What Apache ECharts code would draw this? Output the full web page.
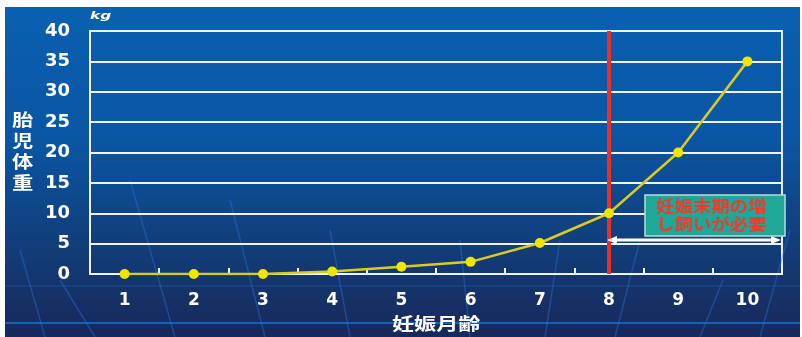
<!DOCTYPE html>
<html><head><meta charset="utf-8">
<script src="https://cdn.jsdelivr.net/npm/echarts@6/dist/echarts.min.js"></script>
<style>html,body{margin:0;padding:0;background:#fff}#c{width:802px;height:337px}</style>
</head><body><div id="c"></div>
<script>
const months = ['1','2','3','4','5','6','7','8','9','10'];
const fetalWeight = [0, 0, 0, 0.4, 1.2, 2, 5.1, 10, 20, 35];
const yTicks = {min: 0, max: 40, interval: 5};
const markMonth = '8';
const yName = '胎児体重';
const xName = '妊娠月齢';
const unitText = 'kg';
const noteLines = ['妊娠末期の増', 'し飼いが必要'];

const chart = echarts.init(document.getElementById('c'));
const F = '"DejaVu Sans", sans-serif';
const CJK = '"Noto Sans CJK JP", sans-serif';
const deco = [];
const decoLines = [[60,280,95,337],[20,250,45,337],[130,180,175,337],[230,200,265,337],[330,230,350,337],[460,240,470,337],[560,240,545,337],[640,240,615,337],[723,280,700,337],[790,230,760,337]];
decoLines.forEach(l => deco.push({type:'line', silent:true, z:0, shape:{x1:l[0],y1:l[1],x2:l[2],y2:l[3]}, style:{stroke:'rgba(40,120,220,0.4)', lineWidth:1.5}}));

chart.setOption({
  animation: false,
  backgroundColor: '#ffffff',
  grid: {left: 90, right: 20, top: 31, bottom: 63, show: true, borderColor: '#e8eef8', borderWidth: 2, backgroundColor: 'transparent'},
  graphic: [
    {type:'rect', z:-10, silent:true, shape:{x:5, y:7, width:795, height:330},
     style:{fill:{type:'linear', x:0, y:0, x2:0, y2:1, colorStops:[{offset:0,color:'#0a60b0'},{offset:0.4,color:'#0a56a4'},{offset:0.7,color:'#113f7c'},{offset:1,color:'#18285a'}]}}},
    {type:'line', silent:true, z:0, shape:{x1:5,y1:323,x2:800,y2:323}, style:{stroke:'#1462b8', lineWidth:2}},
    {type:'line', silent:true, z:0, shape:{x1:5,y1:286,x2:800,y2:286}, style:{stroke:'rgba(30,90,170,0.4)', lineWidth:1.5}},
    ...deco,
    {type:'text', x: 90, y: 11, scaleX: 1.4, style:{text: unitText, fill:'#ffffff', font:'italic bold 11px ' + F}},
    {type:'text', x: 12, y: 109, scaleX: 1.25, style:{text: yName.split('').join('\n'), fill:'#ffffff', font:'bold 17px ' + CJK, lineHeight: 21}},
    {type:'text', x: 392, y: 315, scaleX: 1.3, style:{text: xName, fill:'#ffffff', font:'bold 17px ' + CJK}},
    {type:'rect', z:20, shape:{x:645, y:195, width:140, height:41}, style:{fill:'#1fa898', stroke:'#b8dcd8', lineWidth:1.5}},
    {type:'text', z:21, x: 656, y: 197, scaleX: 1.15, style:{text: noteLines.join('\n'), fill:'#ee3a2a', font:'bold 16px ' + CJK, lineHeight: 18, align:'left'}},
    {type:'line', z:20, shape:{x1:612,y1:240,x2:776,y2:240}, style:{stroke:'#ffffff', lineWidth:3}},
    {type:'polygon', z:20, shape:{points:[[607,240],[617,236],[617,244]]}, style:{fill:'#ffffff'}},
    {type:'polygon', z:20, shape:{points:[[781,240],[771,236],[771,244]]}, style:{fill:'#ffffff'}}
  ],
  xAxis: {
    type: 'category', data: months, boundaryGap: true,
    axisLine: {lineStyle: {color: '#f0f4fa', width: 2}},
    axisTick: {show: true, inside: true, length: 6, lineStyle: {color: '#f0f4fa', width: 2}},
    axisLabel: {color: '#ffffff', fontFamily: F, fontWeight: 'bold', fontSize: 17, margin: 18}
  },
  yAxis: {
    type: 'value', min: yTicks.min, max: yTicks.max, interval: yTicks.interval,
    axisLine: {show: true, lineStyle: {color: '#f0f4fa', width: 2}},
    axisTick: {show: false},
    splitLine: {lineStyle: {color: '#f0f4fa', width: 2}},
    axisLabel: {color: '#ffffff', fontFamily: F, fontWeight: 'bold', fontSize: 18, margin: 20}
  },
  series: [{
    type: 'line', data: fetalWeight, symbol: 'circle', symbolSize: 10,
    itemStyle: {color: '#f2e600'},
    lineStyle: {color: '#d8cc22', width: 2.5},
    z: 5,
    markLine: {
      silent: true, symbol: ['none','none'], label: {show: false},
      lineStyle: {color: '#e8302a', width: 4, type: 'solid'},
      data: [{xAxis: markMonth}]
    }
  }]
});
</script></body></html>
